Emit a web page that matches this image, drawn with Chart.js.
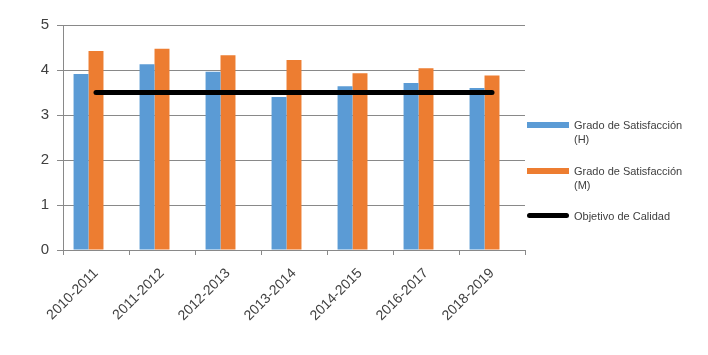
<!DOCTYPE html>
<html>
<head>
<meta charset="utf-8">
<script src="https://cdn.jsdelivr.net/npm/chart.js@4.4.1/dist/chart.umd.min.js"></script>
<style>
  html, body { margin: 0; padding: 0; background: #fff; }
  #caja { position: relative; width: 708px; height: 355px; }
  #grafico { position: absolute; left: 0; top: 0; }
  .leyenda-item { position: absolute; left: 527px; display: flex; align-items: flex-start;
    font-family: "Liberation Sans", sans-serif; font-size: 11px; line-height: 14px; color: #404040; }
  .leyenda-marca { width: 42px; height: 6px; margin-top: 4px; margin-right: 5px; flex: none; }
  .leyenda-marca.linea { height: 5px; border-radius: 3px; }
</style>
</head>
<body>
<div id="caja">
  <canvas id="grafico" width="708" height="355"></canvas>
</div>
<script>
const categorias = ["2010-2011", "2011-2012", "2012-2013", "2013-2014", "2014-2015", "2016-2017", "2018-2019"];
const satisfaccionH = [3.91, 4.13, 3.96, 3.40, 3.64, 3.71, 3.60];
const satisfaccionM = [4.42, 4.47, 4.33, 4.22, 3.93, 4.04, 3.88];
const objetivoCalidad = [3.5, 3.5, 3.5, 3.5, 3.5, 3.5, 3.5];
const ticksY = [0, 1, 2, 3, 4, 5];

const colorH = "#5B9BD5";
const colorM = "#ED7D31";
const colorObjetivo = "#000000";
const colorGrid = "#898989";
const colorTexto = "#404040";

// Excel deja sitio para una tercera columna (la del objetivo), por eso va un hueco vacío
const hueco = categorias.map(() => null);

const canvas = document.getElementById("grafico");
new Chart(canvas.getContext("2d"), {
  data: {
    labels: categorias,
    datasets: [
      { type: "line", label: "Objetivo de Calidad", data: objetivoCalidad, borderColor: colorObjetivo,
        borderWidth: 5, borderCapStyle: "round", pointRadius: 0, fill: false, order: 0 },
      { type: "bar", label: "Grado de Satisfacción (H)", data: satisfaccionH, backgroundColor: colorH, order: 1 },
      { type: "bar", label: "Grado de Satisfacción (M)", data: satisfaccionM, backgroundColor: colorM, order: 1 },
      { type: "bar", label: "", data: hueco, backgroundColor: "rgba(0,0,0,0)", order: 1 }
    ]
  },
  options: {
    responsive: false,
    animation: false,
    layout: { padding: { top: 25, right: 183, left: 0, bottom: 0 } },
    datasets: { bar: { categoryPercentage: 0.68, barPercentage: 1 } },
    plugins: { legend: { display: false }, tooltip: { enabled: false } },
    scales: {
      x: {
        offset: true,
        grid: { offset: true, drawOnChartArea: false, drawTicks: true, tickLength: 5, color: colorGrid },
        border: { display: true, color: colorGrid },
        ticks: { minRotation: 45, maxRotation: 45, color: colorTexto, padding: 10,
          font: { family: "Liberation Sans", size: 14 } },
        afterFit: (s) => { s.height = 105; }
      },
      y: {
        min: 0, max: 5,
        afterBuildTicks: (s) => { s.ticks = ticksY.map((v) => ({ value: v })); },
        grid: { color: colorGrid, tickLength: 6 },
        border: { display: true, color: colorGrid },
        ticks: { color: colorTexto, padding: 8, font: { family: "Liberation Sans", size: 15 } },
        afterFit: (s) => { s.width = 63; }
      }
    }
  }
});

// Leyenda a la derecha, con textos en dos líneas como en el original
const leyenda = [
  { texto: "Grado de Satisfacción<br>(H)", color: colorH, linea: false },
  { texto: "Grado de Satisfacción<br>(M)", color: colorM, linea: false },
  { texto: "Objetivo de Calidad", color: colorObjetivo, linea: true }
];
const caja = document.getElementById("caja");
leyenda.forEach((item, i) => {
  const div = document.createElement("div");
  div.className = "leyenda-item";
  div.style.top = (118 + i * 45.5) + "px";
  div.innerHTML = `<span class="leyenda-marca${item.linea ? " linea" : ""}" style="background:${item.color}"></span><span>${item.texto}</span>`;
  caja.appendChild(div);
});
</script>
</body>
</html>
